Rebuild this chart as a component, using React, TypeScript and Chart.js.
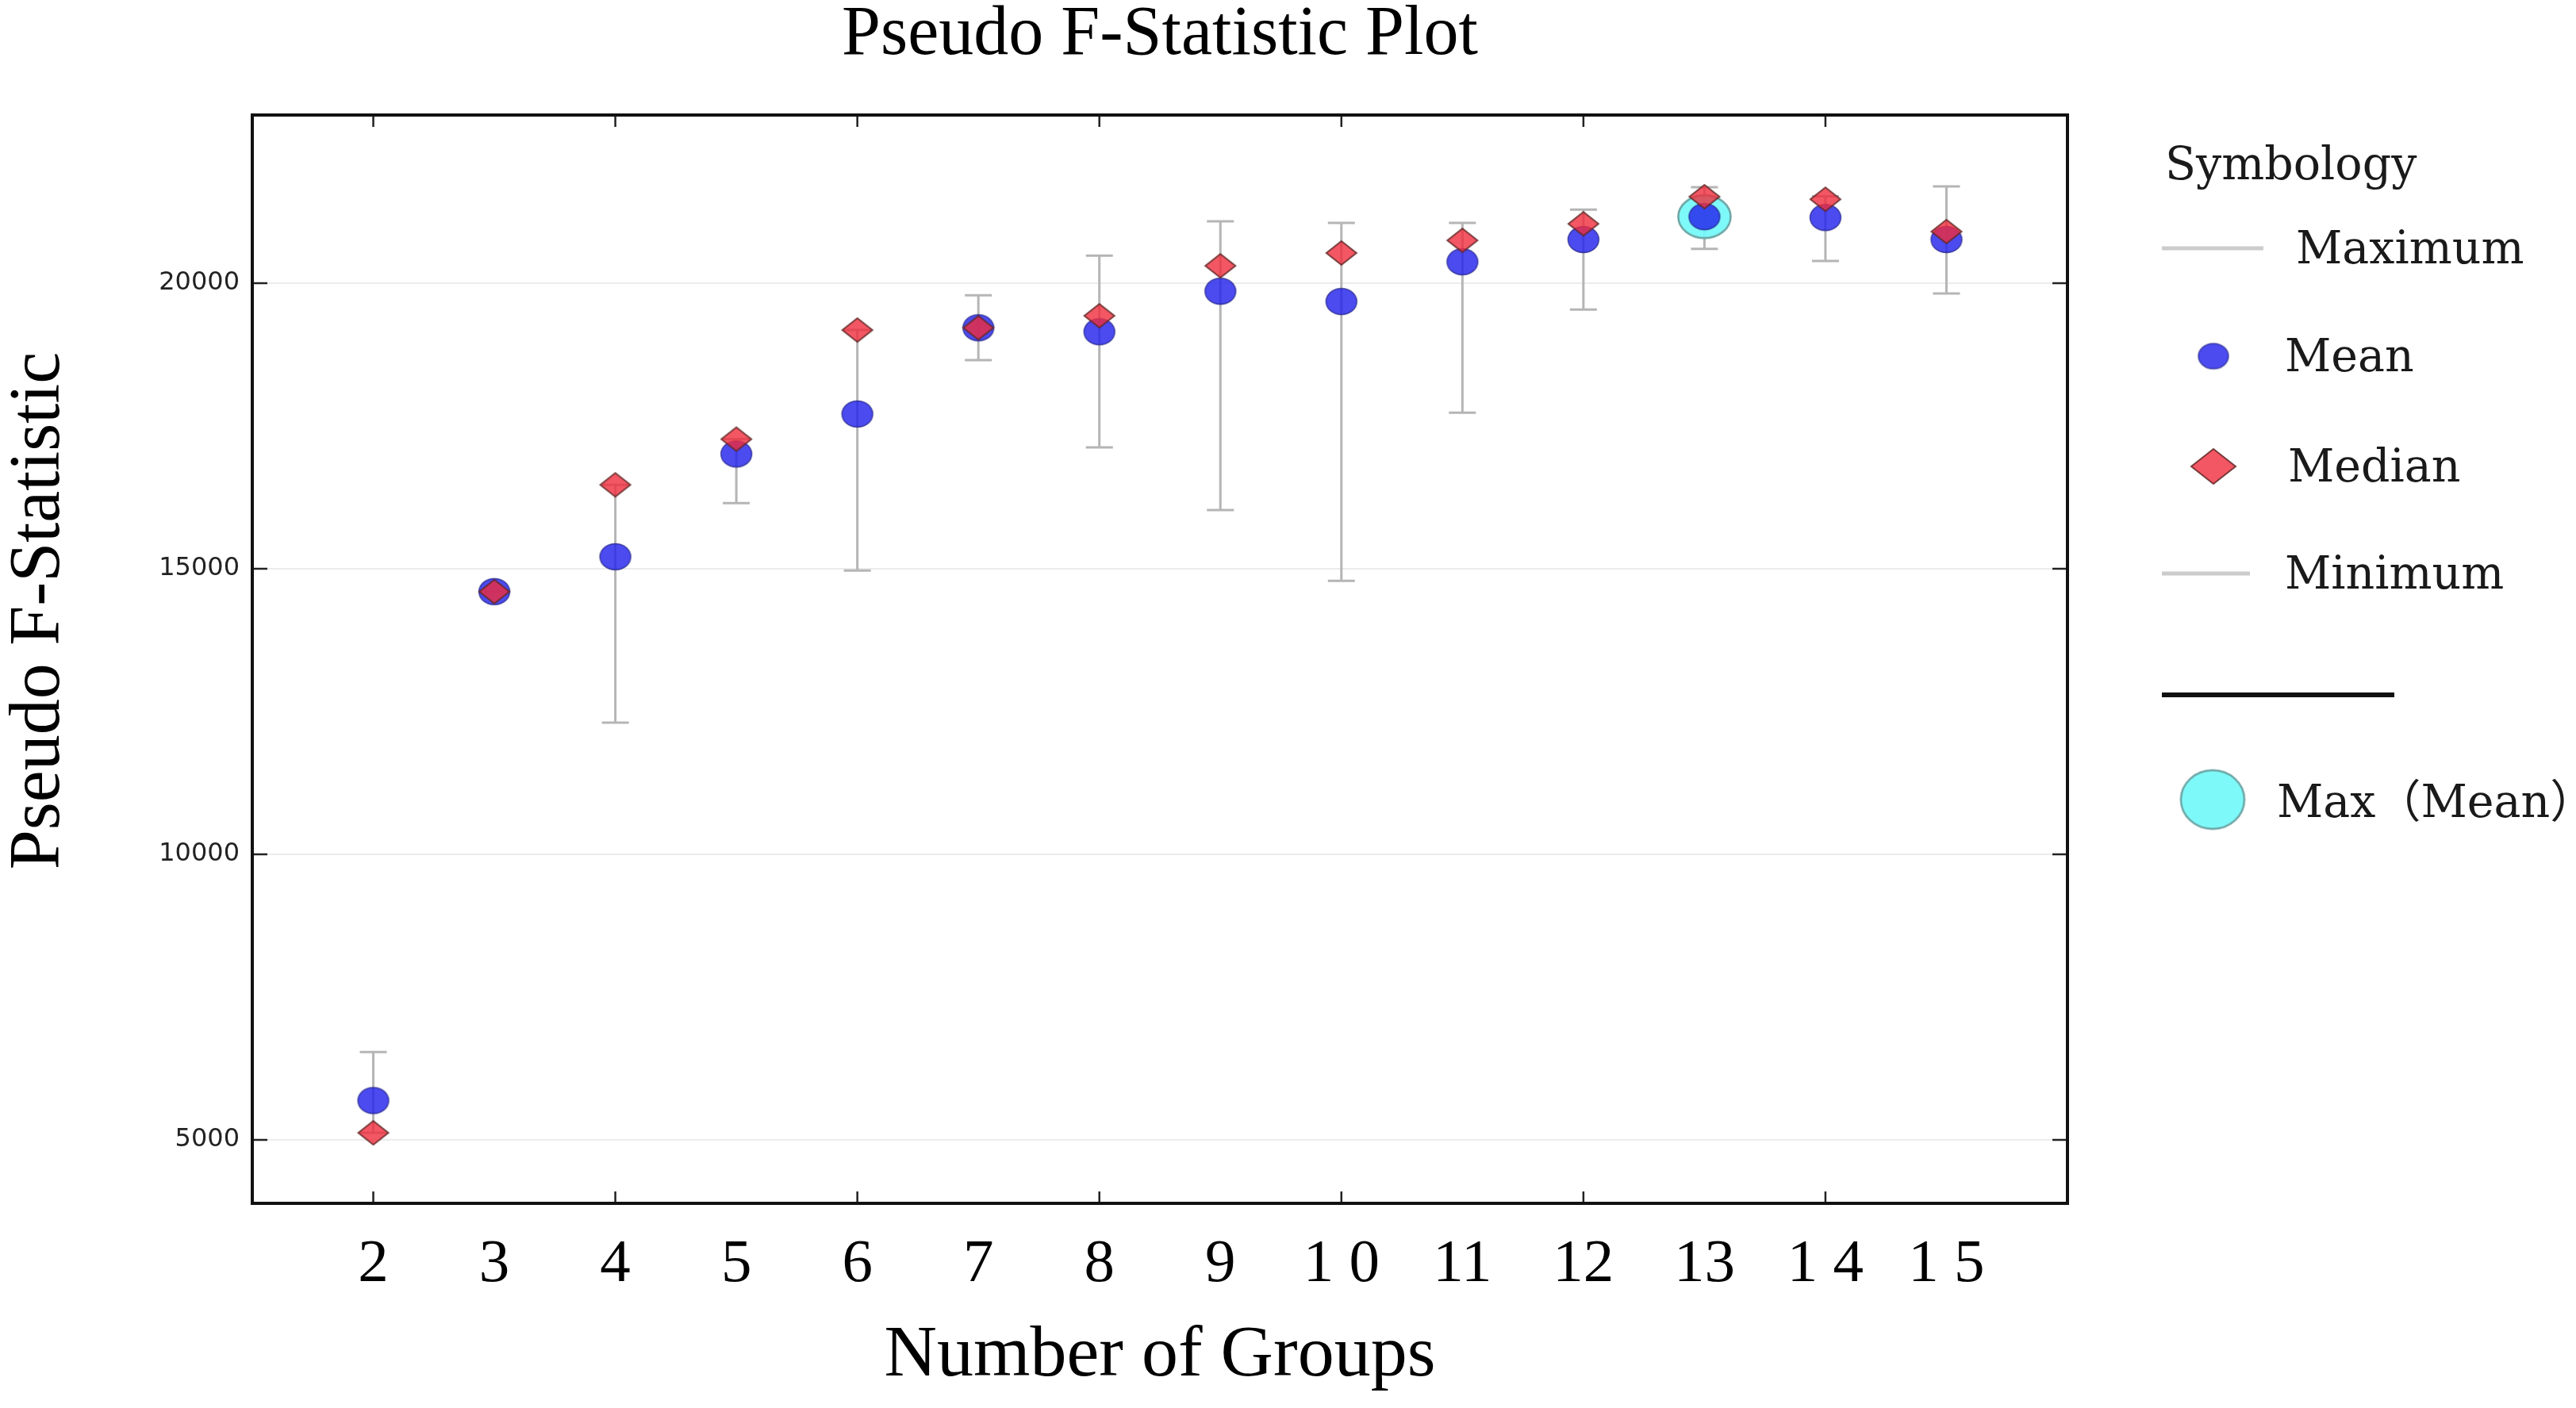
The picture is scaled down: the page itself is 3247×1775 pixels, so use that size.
import React, { useEffect, useRef } from "react";
import { Chart, registerables } from "chart.js";

Chart.register(...registerables);

// ---- data ----
const GROUPS = [2, 3, 4, 5, 6, 7, 8, 9, 10, 11, 12, 13, 14, 15];
const X_TICK_LABELS = ["2", "3", "4", "5", "6", "7", "8", "9", "1 0", "11", "12", "13", "1 4", "1 5"];
const MEAN = [5690, 14600, 15210, 17010, 17710, 19220, 19150, 19860, 19680, 20375, 20765, 21165, 21150, 20765];
const MEDIAN = [5125, 14600, 16470, 17270, 19180, 19220, 19430, 20305, 20530, 20750, 21040, 21515, 21470, 20905];
const MAXIMUM = [6540, 14600, 16470, 17270, 19180, 19790, 20485, 21085, 21055, 21055, 21290, 21680, 21520, 21695];
const MINIMUM = [5125, 14600, 12305, 16150, 14970, 18655, 17125, 16030, 14790, 17735, 19540, 20600, 20390, 19820];
const Y_TICKS = [5000, 10000, 15000, 20000];
const X_MARK_TICKS = [2, 4, 6, 8, 10, 12, 14];
const Y_MIN = 3890;
const Y_MAX = 22945;
const X_MIN = 1;
const X_MAX = 16;

const TITLE = "Pseudo F-Statistic Plot";
const X_TITLE = "Number of Groups";
const Y_TITLE = "Pseudo F-Statistic";
const LEGEND_TITLE = "Symbology";
const LEGEND_LABELS = ["Maximum", "Mean", "Median", "Minimum", "Max\uFF08Mean\uFF09"];

// ---- marker images ----
function ellipseImg(w: number, h: number, fill: string, stroke: string, lw: number) {
  const c = document.createElement("canvas");
  c.width = Math.ceil(w + lw * 2 + 2);
  c.height = Math.ceil(h + lw * 2 + 2);
  const ctx = c.getContext("2d")!;
  ctx.beginPath();
  ctx.ellipse(c.width / 2, c.height / 2, w / 2, h / 2, 0, 0, Math.PI * 2);
  ctx.fillStyle = fill;
  ctx.fill();
  ctx.lineWidth = lw;
  ctx.strokeStyle = stroke;
  ctx.stroke();
  return c;
}

function diamondImg(w: number, h: number, fill: string, stroke: string, lw: number) {
  const c = document.createElement("canvas");
  c.width = Math.ceil(w + lw * 2 + 2);
  c.height = Math.ceil(h + lw * 2 + 2);
  const ctx = c.getContext("2d")!;
  const cx = c.width / 2;
  const cy = c.height / 2;
  ctx.beginPath();
  ctx.moveTo(cx, cy - h / 2);
  ctx.lineTo(cx + w / 2, cy);
  ctx.lineTo(cx, cy + h / 2);
  ctx.lineTo(cx - w / 2, cy);
  ctx.closePath();
  ctx.fillStyle = fill;
  ctx.fill();
  ctx.lineWidth = lw;
  ctx.strokeStyle = stroke;
  ctx.lineJoin = "miter";
  ctx.stroke();
  return c;
}

export default function App() {
  const canvasRef = useRef<HTMLCanvasElement | null>(null);

  useEffect(() => {
    const canvas = canvasRef.current;
    if (!canvas) return;

    const MEAN_FILL = "rgba(35,35,235,0.82)";
    const MEAN_EDGE = "rgba(30,30,130,0.7)";
    const MED_FILL = "rgba(240,45,60,0.80)";
    const MED_EDGE = "rgba(100,40,40,0.85)";
    const CYAN_FILL = "rgba(115,248,248,0.92)";
    const CYAN_EDGE = "#6aa3a3";

    const meanImg = ellipseImg(39, 33, MEAN_FILL, MEAN_EDGE, 1.5);
    const medianImg = diamondImg(38, 30, MED_FILL, MED_EDGE, 2);
    const cyanImg = ellipseImg(66, 54, CYAN_FILL, CYAN_EDGE, 2.5);
    const legMeanImg = ellipseImg(38, 32, MEAN_FILL, MEAN_EDGE, 1.5);
    const legMedianImg = diamondImg(56, 44, MED_FILL, MED_EDGE, 2);
    const legCyanImg = ellipseImg(80, 74, CYAN_FILL, CYAN_EDGE, 2.5);

    const iMax = MEAN.indexOf(Math.max(...MEAN));

    const decor = {
      id: "decor",
      beforeDatasetsDraw(chart: any) {
        const { ctx } = chart;
        const xs = chart.scales.x;
        const ys = chart.scales.y;
        ctx.save();
        ctx.strokeStyle = "#b5b5b5";
        ctx.lineWidth = 3;
        for (let i = 0; i < GROUPS.length; i++) {
          const x = xs.getPixelForValue(GROUPS[i]);
          const yt = ys.getPixelForValue(MAXIMUM[i]);
          const yb = ys.getPixelForValue(MINIMUM[i]);
          ctx.beginPath();
          ctx.moveTo(x, yt);
          ctx.lineTo(x, yb);
          ctx.moveTo(x - 17, yt);
          ctx.lineTo(x + 17, yt);
          ctx.moveTo(x - 17, yb);
          ctx.lineTo(x + 17, yb);
          ctx.stroke();
        }
        ctx.restore();
      },
      afterDatasetsDraw(chart: any) {
        const { ctx, chartArea: a } = chart;
        const xs = chart.scales.x;
        const ys = chart.scales.y;
        ctx.save();
        ctx.strokeStyle = "#222";
        ctx.lineWidth = 2.5;
        ctx.beginPath();
        for (const v of Y_TICKS) {
          const y = ys.getPixelForValue(v);
          ctx.moveTo(a.left, y);
          ctx.lineTo(a.left + 19, y);
          ctx.moveTo(a.right, y);
          ctx.lineTo(a.right - 19, y);
        }
        for (const v of X_MARK_TICKS) {
          const x = xs.getPixelForValue(v);
          ctx.moveTo(x, a.bottom);
          ctx.lineTo(x, a.bottom - 15);
          ctx.moveTo(x, a.top);
          ctx.lineTo(x, a.top + 15);
        }
        ctx.stroke();
        ctx.strokeStyle = "#111";
        ctx.lineWidth = 4;
        ctx.strokeRect(a.left, a.top, a.right - a.left, a.bottom - a.top);
        ctx.restore();
      },
      afterDraw(chart: any) {
        const { ctx, chartArea: a } = chart;
        const R = a.right;
        ctx.save();
        // y-axis title
        ctx.fillStyle = "#000";
        ctx.font = '90px "Liberation Serif", serif';
        ctx.textAlign = "center";
        ctx.textBaseline = "middle";
        ctx.translate(50, 770);
        ctx.rotate(-Math.PI / 2);
        ctx.fillText(Y_TITLE, 0, 0);
        ctx.restore();

        ctx.save();
        ctx.fillStyle = "#1a1a1a";
        ctx.textBaseline = "middle";
        ctx.textAlign = "left";
        ctx.font = '57px "DejaVu Serif", "Noto Sans CJK SC", serif';
        ctx.fillText(LEGEND_TITLE, R + 123, 211);
        // Maximum
        ctx.strokeStyle = "#cccccc";
        ctx.lineWidth = 5;
        ctx.beginPath();
        ctx.moveTo(R + 119, 313);
        ctx.lineTo(R + 247, 313);
        ctx.stroke();
        ctx.fillText(LEGEND_LABELS[0], R + 288, 317);
        // Mean
        ctx.drawImage(legMeanImg, R + 184 - legMeanImg.width / 2, 449 - legMeanImg.height / 2);
        ctx.fillText(LEGEND_LABELS[1], R + 274, 453);
        // Median
        ctx.drawImage(legMedianImg, R + 184 - legMedianImg.width / 2, 588 - legMedianImg.height / 2);
        ctx.fillText(LEGEND_LABELS[2], R + 278, 592);
        // Minimum
        ctx.beginPath();
        ctx.moveTo(R + 119, 723);
        ctx.lineTo(R + 230, 723);
        ctx.stroke();
        ctx.fillText(LEGEND_LABELS[3], R + 274, 727);
        // separator
        ctx.strokeStyle = "#111";
        ctx.lineWidth = 6;
        ctx.beginPath();
        ctx.moveTo(R + 119, 876);
        ctx.lineTo(R + 412, 876);
        ctx.stroke();
        // Max (Mean)
        ctx.drawImage(legCyanImg, R + 183 - legCyanImg.width / 2, 1008 - legCyanImg.height / 2);
        ctx.fillText(LEGEND_LABELS[4], R + 264, 1015);
        ctx.restore();
      },
    };

    const chart = new Chart(canvas, {
      type: "scatter",
      data: {
        datasets: [
          {
            label: "Median",
            data: GROUPS.map((g, i) => ({ x: g, y: MEDIAN[i] })),
            pointStyle: medianImg as any,
            pointRadius: 10,
          },
          {
            label: "Mean",
            data: GROUPS.map((g, i) => ({ x: g, y: MEAN[i] })),
            pointStyle: meanImg as any,
            pointRadius: 10,
          },
          {
            label: "Max (Mean)",
            data: [{ x: GROUPS[iMax], y: MEAN[iMax] }],
            pointStyle: cyanImg as any,
            pointRadius: 10,
          },
        ],
      },
      options: {
        animation: false,
        responsive: false,
        events: [],
        layout: { padding: { top: 0, left: 0, right: 641, bottom: 0 } },
        plugins: {
          legend: { display: false },
          tooltip: { enabled: false },
          title: {
            display: true,
            text: TITLE,
            fullSize: false,
            color: "#000",
            font: { family: "'Liberation Serif', serif", size: 88, weight: "normal", lineHeight: 1 },
            padding: { top: 1, bottom: 56 },
          },
        },
        scales: {
          x: {
            type: "linear",
            min: X_MIN,
            max: X_MAX,
            grid: { display: false, drawTicks: false },
            border: { display: false },
            afterFit: (s: any) => {
              s.height = 258;
            },
            afterBuildTicks: (s: any) => {
              s.ticks = GROUPS.map((v) => ({ value: v }));
            },
            ticks: {
              autoSkip: false,
              maxRotation: 0,
              minRotation: 0,
              padding: 39,
              color: "#000",
              font: { family: "'Liberation Serif', serif", size: 77, lineHeight: 1 },
              callback: (v: any) => {
                const i = GROUPS.indexOf(Number(v));
                return i >= 0 ? X_TICK_LABELS[i] : "";
              },
            },
            title: {
              display: true,
              text: X_TITLE,
              color: "#000",
              font: { family: "'Liberation Serif', serif", size: 92, lineHeight: 1 },
              padding: { top: 0, bottom: 19 },
            },
          },
          y: {
            type: "linear",
            min: Y_MIN,
            max: Y_MAX,
            grid: { display: true, drawTicks: false, color: "#ececec", lineWidth: 2 },
            border: { display: false },
            afterFit: (s: any) => {
              s.width = 318;
            },
            afterBuildTicks: (s: any) => {
              s.ticks = Y_TICKS.map((v) => ({ value: v }));
            },
            ticks: {
              padding: 16,
              color: "#222",
              font: { family: "'DejaVu Sans', sans-serif", size: 32 },
              callback: (v: any) => String(v),
            },
            title: { display: false },
          },
        },
      },
      plugins: [decor],
    } as any);

    return () => {
      chart.destroy();
    };
  }, []);

  return (
    <div style={{ position: "absolute", left: 0, top: 0, width: 3247, height: 1775, background: "#fff" }}>
      <canvas ref={canvasRef} width={3247} height={1775} style={{ width: 3247, height: 1775, display: "block" }} />
    </div>
  );
}
